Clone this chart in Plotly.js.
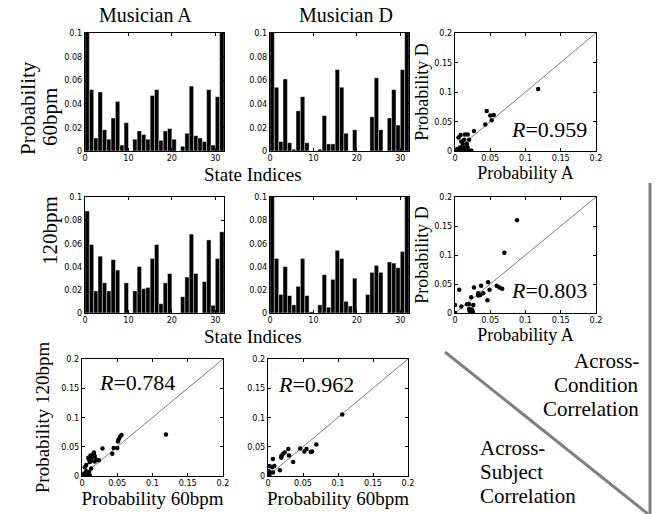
<!DOCTYPE html>
<html>
<head>
<meta charset="utf-8">
<script src="https://cdn.plot.ly/plotly-3.0.1.min.js"></script>
<style>html,body{margin:0;padding:0;background:#fff;}#chart{width:657px;height:514px;}</style>
</head>
<body>
<div id="chart"></div>
<script>
// ---------- data ----------
const states = Array.from({length: 32}, (_, i) => i + 1);
const musicianA60  = [0.119,0.052,0.011,0.050,0.018,0.010,0.028,0.042,0.005,0.024,0,0.010,0.017,0.014,0.010,0.047,0.052,0.009,0.017,0.019,0.010,0,0.004,0.015,0.055,0.013,0.011,0.008,0.052,0.005,0.046,0.105];
const musicianD60  = [0.105,0.054,0.008,0.061,0.007,0.0015,0.034,0.046,0.007,0,0,0.0015,0.030,0.006,0.006,0.069,0.054,0.015,0,0.018,0,0,0,0.029,0.062,0.018,0,0.028,0.052,0.022,0.069,0.110];
const musicianA120 = [0.088,0.059,0.019,0.049,0.026,0.019,0.046,0.037,0,0.026,0,0.019,0.040,0.021,0.022,0.047,0.059,0.008,0.026,0.034,0,0,0.014,0.031,0.068,0.034,0,0.027,0.063,0.0066,0.047,0.070];
const musicianD120 = [0.160,0.047,0.016,0.040,0.015,0.007,0.023,0.047,0.015,0.001,0,0.007,0.033,0.005,0.029,0.054,0.047,0.010,0.006,0.030,0,0,0.016,0.035,0.041,0.035,0,0.044,0.043,0.039,0.053,0.105];

// across-subject, 60bpm (A vs D)
const subj60A = [0.118,0.045,0.043,0.050,0.055,0.052,0.027,0.005,0.008,0.014,0.018,0.009,0.013,0.020,0.017,0.011,0.007,0.010,0.014,0.018,0.003,0.001,0.005,0.009,0.013,0.018,0.023,0];
const subj60D = [0.105,0.068,0.045,0.060,0.061,0.052,0.034,0.023,0.027,0.028,0.028,0.016,0.019,0.019,0.012,0.012,0.006,0.006,0.006,0.006,0.003,0.001,0.001,0.001,0.001,0.001,0.001,0];
// across-subject, 120bpm (A vs D)
const subj120A = [0.088,0.070,0.047,0.037,0.027,0.059,0.063,0.067,0.006,0.049,0.040,0.033,0.036,0.033,0.023,0.046,0.017,0.020,0.026,0,0.009,0.020,0.024,0.025,0.025,0.021,0];
const subj120D = [0.160,0.104,0.053,0.047,0.044,0.047,0.044,0.042,0.040,0.040,0.034,0.034,0.031,0.030,0.027,0.022,0.015,0.015,0.014,0.014,0.011,0.007,0.006,0.003,0,0.003,0];
// across-condition, musician A (60 vs 120)
const condA60  = [0.119,0.056,0.054,0.052,0.051,0.050,0.045,0.043,0.029,0.017,0.016,0.012,0.018,0.014,0.009,0.010,0.013,0.020,0.024,0.011,0.018,0.006,0.004,0.013,0.006,0.010,0.003,0.008,0,0.004,0.011];
const condA120 = [0.071,0.070,0.067,0.063,0.059,0.048,0.048,0.038,0.047,0.040,0.037,0.035,0.034,0.032,0.031,0.028,0.026,0.028,0.027,0.024,0.025,0.019,0.015,0.013,0.008,0.007,0.004,0.004,0.001,0.001,0.001];
// across-condition, musician D (60 vs 120)
const condD60  = [0.106,0.069,0.063,0.061,0.055,0.052,0.046,0.029,0.030,0.024,0.021,0.019,0.019,0.036,0.007,0.009,0.006,0.002,0.017,0.001,0.002,0.007,0,0.002];
const condD120 = [0.105,0.054,0.042,0.041,0.046,0.042,0.047,0.046,0.035,0.040,0.037,0.034,0.031,0.024,0.029,0.017,0.015,0.017,0.010,0.008,0.006,0.006,0.002,0.001];

const identityLine = [0, 0.2];
const barTicks = [0, 10, 20, 30];
const probTicks = [0, 0.05, 0.1, 0.15, 0.2];
const rValues = ['0.959', '0.803', '0.784', '0.962'];

// ---------- helpers ----------
const W = 657, H = 514;
const px = v => v / W;
const py = v => 1 - v / H;
const serif = "'Liberation Serif', 'Times New Roman', Times, serif";
const tickFont = {family: "'Liberation Sans Narrow', 'DejaVu Sans Condensed', 'Arial Narrow', sans-serif", size: 9, color: '#000'};

function axis(domain, range, extra) {
  return Object.assign({
    domain: domain, range: range, showline: true, linecolor: '#000', linewidth: 1,
    mirror: 'ticks', ticks: 'inside', ticklen: 3, tickcolor: '#000', showgrid: false,
    zeroline: false, tickfont: tickFont, fixedrange: true, automargin: false
  }, extra || {});
}
function barTrace(y, n) {
  return {type: 'bar', x: states, y: y, xaxis: 'x' + n, yaxis: 'y' + n, width: 1, offset: -1,
    marker: {color: '#000', line: {color: '#fff', width: 0.4}}, hoverinfo: 'skip'};
}
function dotTrace(x, y, n) {
  return {type: 'scatter', mode: 'markers', x: x, y: y, xaxis: 'x' + n, yaxis: 'y' + n,
    marker: {color: '#000', size: 4.5}, hoverinfo: 'skip'};
}
function diagTrace(n) {
  return {type: 'scatter', mode: 'lines', x: identityLine, y: identityLine, xaxis: 'x' + n, yaxis: 'y' + n,
    line: {color: '#444', width: 0.7}, hoverinfo: 'skip'};
}

const colL = [px(85), px(224)], colM = [px(270), px(409)], colR = [px(455), px(596)];
const colBL = [px(82), px(223)], colBM = [px(268), px(408)];
const row1 = [py(151), py(33)], row2 = [py(313), py(197)], row3 = [py(476), py(359)];

const barX = (d) => axis(d, [0, 32], {tickvals: barTicks, ticklabelstandoff: -2});
const barY = (d, a) => axis(d, [0, 0.1], {dtick: 0.02, anchor: a});
const probX = (d, a, title, st, size) => axis(d, [0, 0.2], {tickvals: probTicks, anchor: a, ticklabelstandoff: -2,
  title: {text: title, font: {family: serif, size: size, color: '#000'}, standoff: st}});
const probY = (d, a, title, st, size) => axis(d, [0, 0.2], {tickvals: probTicks, anchor: a,
  title: {text: title, font: {family: serif, size: size, color: '#000'}, standoff: st}});

const data = [
  barTrace(musicianA60, 1), barTrace(musicianD60, 2),
  diagTrace(3), dotTrace(subj60A, subj60D, 3),
  barTrace(musicianA120, 4), barTrace(musicianD120, 5),
  diagTrace(6), dotTrace(subj120A, subj120D, 6),
  diagTrace(7), dotTrace(condA60, condA120, 7),
  diagTrace(8), dotTrace(condD60, condD120, 8)
];

const layout = {
  width: W, height: H, margin: {l: 0, r: 0, t: 0, b: 0},
  paper_bgcolor: '#fff', plot_bgcolor: '#fff', showlegend: false, bargap: 0,
  font: {family: serif, color: '#000'},
  xaxis: Object.assign(barX(colL), {anchor: 'y'}), yaxis: barY(row1, 'x'),
  xaxis2: Object.assign(barX(colM), {anchor: 'y2'}), yaxis2: barY(row1, 'x2'),
  xaxis3: probX(colR, 'y3', 'Probability A', 2, 18), yaxis3: probY(row1, 'x3', 'Probability D', 0, 18),
  xaxis4: Object.assign(barX(colL), {anchor: 'y4'}), yaxis4: barY(row2, 'x4'),
  xaxis5: Object.assign(barX(colM), {anchor: 'y5'}), yaxis5: barY(row2, 'x5'),
  xaxis6: probX(colR, 'y6', 'Probability A', 2, 18), yaxis6: probY(row2, 'x6', 'Probability D', 0, 18),
  xaxis7: probX(colBL, 'y7', 'Probability 60bpm', 2, 19), yaxis7: probY(row3, 'x7', 'Probability 120bpm', 6, 19),
  xaxis8: probX(colBM, 'y8', 'Probability 60bpm', 2, 19), yaxis8: probY(row3, 'x8', '', 2, 19),
  annotations: [],
  shapes: [
    {type: 'line', xref: 'paper', yref: 'paper', x0: px(650), x1: px(650), y0: py(183), y1: py(514), line: {color: '#808080', width: 3}},
    {type: 'line', xref: 'paper', yref: 'paper', x0: px(445), x1: px(648), y0: py(352), y1: py(514), line: {color: '#808080', width: 3}}
  ]
};

function note(text, x, y, size, opts) {
  layout.annotations.push(Object.assign({text: text, x: px(x), y: py(y), xref: 'paper', yref: 'paper',
    showarrow: false, xanchor: 'center', yanchor: 'middle', font: {family: serif, size: size, color: '#000'}}, opts || {}));
}
note('Musician A', 145, 15, 20);
note('Musician D', 346, 15, 20);
note('Probability', 28, 108, 21, {textangle: -90});
note('60bpm', 50, 117, 21, {textangle: -90});
note('120bpm', 50, 231, 21, {textangle: -90});
note('State Indices', 253, 174, 19);
note('State Indices', 253, 336, 19);
note('<i>R</i>=' + rValues[0], 549, 129, 22);
note('<i>R</i>=' + rValues[1], 549, 290, 22);
note('<i>R</i>=' + rValues[2], 137, 382, 22);
note('<i>R</i>=' + rValues[3], 316, 384, 22);
note('Across-', 641, 361, 21, {xanchor: 'right'});
note('Condition', 641, 385, 21, {xanchor: 'right'});
note('Correlation', 641, 409, 21, {xanchor: 'right'});
note('Across-', 478, 448, 21, {xanchor: 'left'});
note('Subject', 478, 472, 21, {xanchor: 'left'});
note('Correlation', 478, 496, 21, {xanchor: 'left'});

Plotly.newPlot('chart', data, layout, {staticPlot: true, displayModeBar: false});
</script>
</body>
</html>
